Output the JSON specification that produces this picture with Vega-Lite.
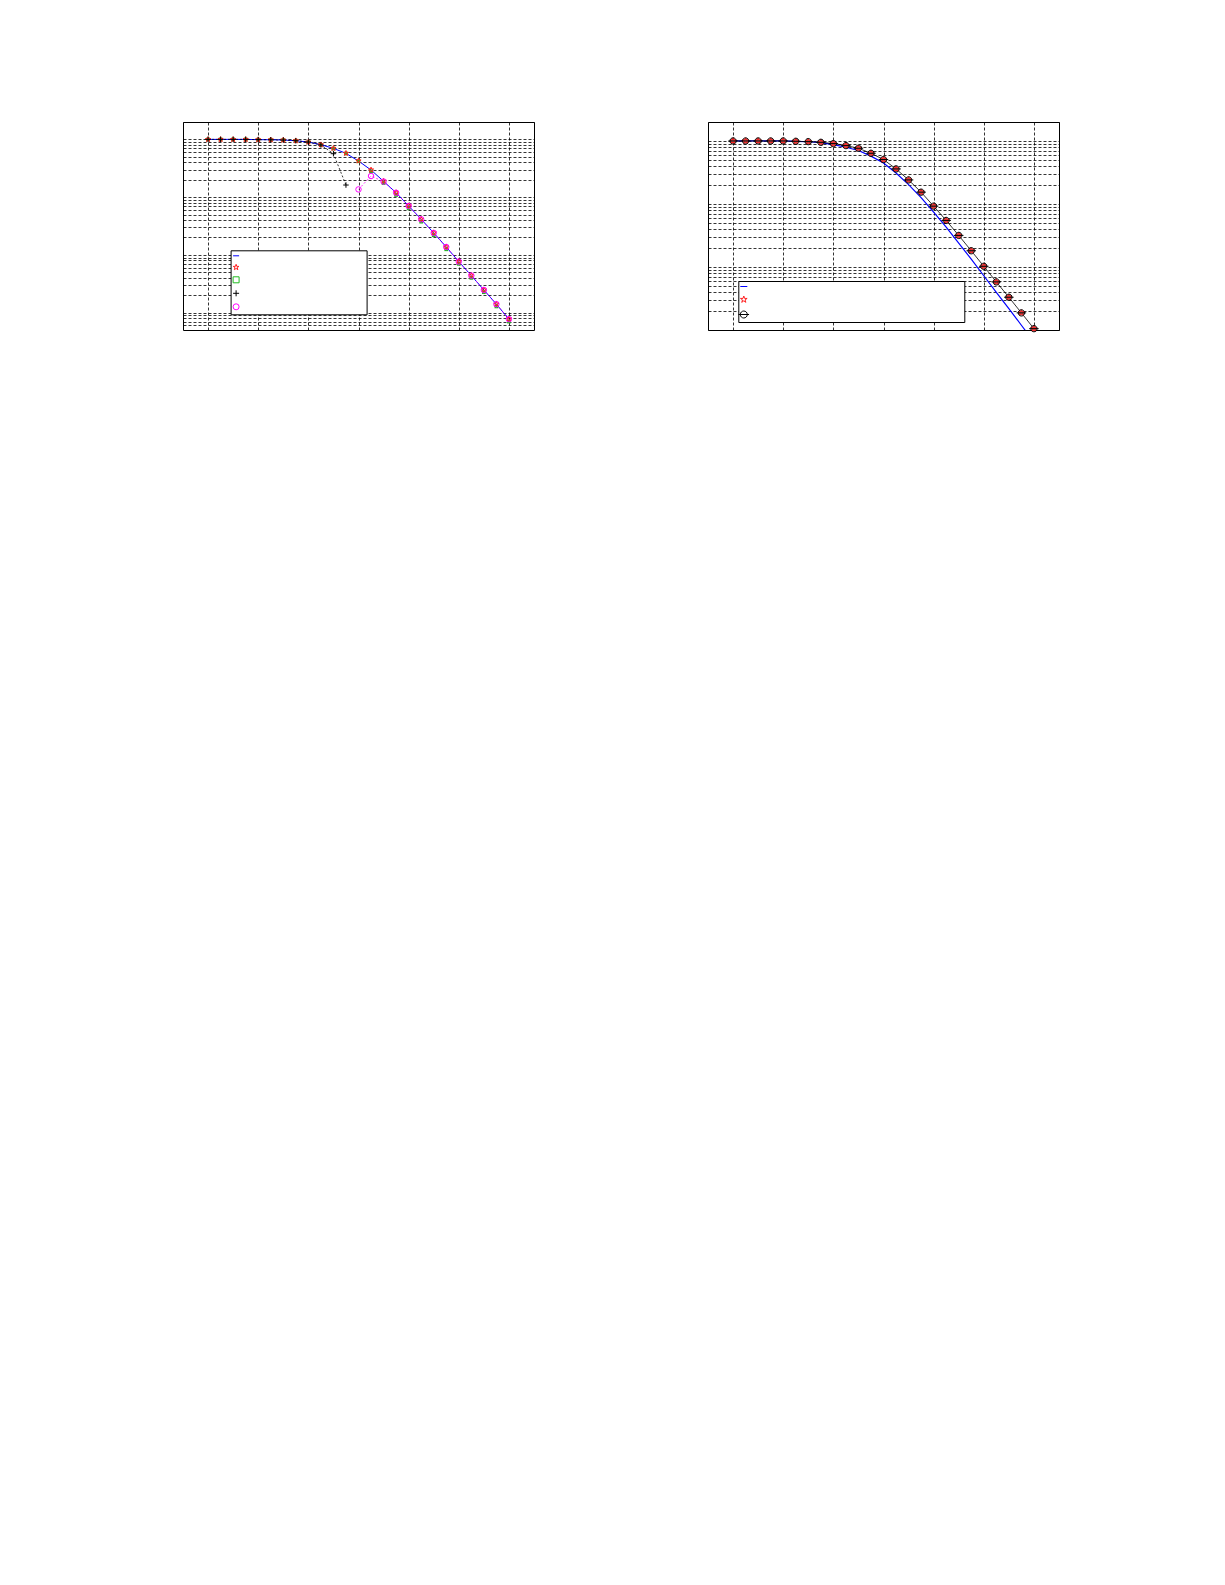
{
  "$schema": "https://vega.github.io/schema/vega-lite/v6.json",
  "background": "white",
  "padding": {"left": 182, "top": 121, "right": 5, "bottom": 5},
  "spacing": 172,
  "config": {
    "view": {"stroke": "#000", "strokeWidth": 1},
    "axis": {
      "labels": false, "ticks": false, "domain": false, "grid": true,
      "gridColor": "#000", "gridOpacity": 1, "gridWidth": 0.8, "gridDash": [3, 2]
    }
  },
  "hconcat": [
    {
      "width": 351,
      "height": 208,
      "data": {"values": [
        {"x":0,"y":1,"s":"theory"},{"x":1,"y":1,"s":"theory"},{"x":2,"y":1,"s":"theory"},{"x":3,"y":1,"s":"theory"},{"x":4,"y":0.99,"s":"theory"},{"x":5,"y":0.985,"s":"theory"},{"x":6,"y":0.975,"s":"theory"},{"x":7,"y":0.948,"s":"theory"},{"x":8,"y":0.899,"s":"theory"},{"x":9,"y":0.809,"s":"theory"},{"x":10,"y":0.699,"s":"theory"},{"x":11,"y":0.573,"s":"theory"},{"x":12,"y":0.422,"s":"theory"},{"x":13,"y":0.295,"s":"theory"},{"x":14,"y":0.188,"s":"theory"},{"x":15,"y":0.119,"s":"theory"},{"x":16,"y":0.0703,"s":"theory"},{"x":17,"y":0.0413,"s":"theory"},{"x":18,"y":0.024,"s":"theory"},{"x":19,"y":0.0137,"s":"theory"},{"x":20,"y":0.00764,"s":"theory"},{"x":21,"y":0.00438,"s":"theory"},{"x":22,"y":0.00247,"s":"theory"},{"x":23,"y":0.0014,"s":"theory"},{"x":24,"y":0.00077,"s":"theory"},
        {"x":0,"y":1,"s":"sim A"},{"x":1,"y":1,"s":"sim A"},{"x":2,"y":1,"s":"sim A"},{"x":3,"y":1,"s":"sim A"},{"x":4,"y":0.99,"s":"sim A"},{"x":5,"y":0.985,"s":"sim A"},{"x":6,"y":0.975,"s":"sim A"},{"x":7,"y":0.95,"s":"sim A"},{"x":8,"y":0.9,"s":"sim A"},{"x":9,"y":0.81,"s":"sim A"},{"x":10,"y":0.7,"s":"sim A"},{"x":11,"y":0.575,"s":"sim A"},{"x":12,"y":0.425,"s":"sim A"},{"x":13,"y":0.297,"s":"sim A"},{"x":14,"y":0.19,"s":"sim A"},{"x":15,"y":0.12,"s":"sim A"},{"x":16,"y":0.071,"s":"sim A"},{"x":17,"y":0.0415,"s":"sim A"},{"x":18,"y":0.0242,"s":"sim A"},{"x":19,"y":0.0138,"s":"sim A"},{"x":20,"y":0.0077,"s":"sim A"},{"x":21,"y":0.0044,"s":"sim A"},{"x":22,"y":0.00248,"s":"sim A"},{"x":23,"y":0.00141,"s":"sim A"},{"x":24,"y":0.00078,"s":"sim A"},
        {"x":0,"y":1,"s":"sim B"},{"x":1,"y":1,"s":"sim B"},{"x":2,"y":1,"s":"sim B"},{"x":3,"y":1,"s":"sim B"},{"x":4,"y":0.99,"s":"sim B"},{"x":5,"y":0.985,"s":"sim B"},{"x":6,"y":0.975,"s":"sim B"},{"x":7,"y":0.948,"s":"sim B"},{"x":8,"y":0.898,"s":"sim B"},{"x":9,"y":0.805,"s":"sim B"},{"x":10,"y":0.695,"s":"sim B"},{"x":11,"y":0.57,"s":"sim B"},{"x":12,"y":0.418,"s":"sim B"},{"x":13,"y":0.28,"s":"sim B"},{"x":14,"y":0.175,"s":"sim B"},{"x":15,"y":0.109,"s":"sim B"},{"x":16,"y":0.064,"s":"sim B"},{"x":17,"y":0.0376,"s":"sim B"},{"x":18,"y":0.0219,"s":"sim B"},{"x":19,"y":0.0125,"s":"sim B"},{"x":20,"y":0.007,"s":"sim B"},{"x":21,"y":0.004,"s":"sim B"},{"x":22,"y":0.00226,"s":"sim B"},{"x":23,"y":0.00128,"s":"sim B"},{"x":24,"y":0.0007,"s":"sim B"},
        {"x":0,"y":1,"s":"sim C"},{"x":1,"y":1,"s":"sim C"},{"x":2,"y":1,"s":"sim C"},{"x":3,"y":1,"s":"sim C"},{"x":4,"y":0.99,"s":"sim C"},{"x":5,"y":0.985,"s":"sim C"},{"x":6,"y":0.975,"s":"sim C"},{"x":7,"y":0.948,"s":"sim C"},{"x":8,"y":0.899,"s":"sim C"},{"x":9,"y":0.8,"s":"sim C"},{"x":10,"y":0.565,"s":"sim C"},{"x":11,"y":0.162,"s":"sim C"},
        {"x":12,"y":0.136,"s":"sim D"},{"x":13,"y":0.232,"s":"sim D"},{"x":14,"y":0.186,"s":"sim D"},{"x":15,"y":0.119,"s":"sim D"},{"x":16,"y":0.0703,"s":"sim D"},{"x":17,"y":0.0413,"s":"sim D"},{"x":18,"y":0.024,"s":"sim D"},{"x":19,"y":0.0137,"s":"sim D"},{"x":20,"y":0.00764,"s":"sim D"},{"x":21,"y":0.00438,"s":"sim D"},{"x":22,"y":0.00247,"s":"sim D"},{"x":23,"y":0.0014,"s":"sim D"},{"x":24,"y":0.00077,"s":"sim D"}
      ]},
      "encoding": {
        "x": {"field": "x", "type": "quantitative", "scale": {"domain": [-2, 26], "nice": false, "zero": false}, "axis": {"title": null, "values": [0, 4, 8, 12, 16, 20, 24]}},
        "y": {"field": "y", "type": "quantitative", "scale": {"type": "log", "domain": [0.0005, 2], "nice": false}, "axis": {"title": null, "values": [0.0006,0.0007,0.0008,0.0009,0.001,0.002,0.003,0.004,0.005,0.006,0.007,0.008,0.009,0.01,0.02,0.03,0.04,0.05,0.06,0.07,0.08,0.09,0.1,0.2,0.3,0.4,0.5,0.6,0.7,0.8,0.9,1,2]}}
      },
      "layer": [
        {
          "transform": [{"filter": "datum.s === 'theory'"}],
          "mark": {"type": "line", "color": "#0000ff", "strokeWidth": 1, "clip": true}
        },
        {
          "transform": [{"filter": "datum.s === 'sim C'"}],
          "mark": {"type": "line", "color": "#000000", "strokeWidth": 0.8, "strokeDash": [2, 2]}
        },
        {
          "transform": [{"filter": "datum.s === 'sim D'"}],
          "mark": {"type": "line", "color": "#ff00ff", "strokeWidth": 0.8, "strokeDash": [2, 2]}
        },
        {
          "transform": [{"filter": "datum.s === 'sim B'"}],
          "mark": {"type": "point", "shape": "square", "filled": true, "color": "#22bb22", "opacity": 1, "size": 14}
        },
        {
          "transform": [{"filter": "datum.s !== 'theory' && datum.s !== 'sim B'"}],
          "mark": {"type": "point", "filled": false, "strokeWidth": 1, "opacity": 1, "size": 30},
          "encoding": {
            "shape": {"field": "s", "type": "nominal", "scale": {"domain": ["theory", "sim A", "sim B", "sim C", "sim D"], "range": ["stroke", "M0,-1L0.225,-0.309L0.951,-0.309L0.363,0.118L0.588,0.809L0,0.382L-0.588,0.809L-0.363,0.118L-0.951,-0.309L-0.225,-0.309Z", "square", "M-1,0H1M0,-1V1", "circle"]},
              "legend": {"title": null, "orient": "none", "legendX": 47.6, "legendY": 128.3, "labelExpr": "''", "labelOffset": 125, "padding": 2, "rowPadding": 2.5, "labelFontSize": 6, "symbolSize": 36, "fillColor": "white", "strokeColor": "black", "symbolStrokeWidth": 1}},
            "stroke": {"field": "s", "type": "nominal", "scale": {"domain": ["theory", "sim A", "sim B", "sim C", "sim D"], "range": ["#0000ff", "#ff2020", "#22bb22", "#000000", "#ff00ff"]},
              "legend": {"title": null, "orient": "none", "legendX": 47.6, "legendY": 128.3, "labelExpr": "''", "labelOffset": 125, "padding": 2, "rowPadding": 2.5, "labelFontSize": 6, "symbolSize": 36, "fillColor": "white", "strokeColor": "black", "symbolStrokeWidth": 1}}
          }
        }
      ]
    },
    {
      "width": 351,
      "height": 208,
      "data": {"values": [
        {"x":0,"y":1,"s":"theory"},{"x":1,"y":1,"s":"theory"},{"x":2,"y":1,"s":"theory"},{"x":3,"y":1,"s":"theory"},{"x":4,"y":1,"s":"theory"},{"x":5,"y":0.988,"s":"theory"},{"x":6,"y":0.972,"s":"theory"},{"x":7,"y":0.94,"s":"theory"},{"x":8,"y":0.877,"s":"theory"},{"x":9,"y":0.796,"s":"theory"},{"x":10,"y":0.706,"s":"theory"},{"x":11,"y":0.575,"s":"theory"},{"x":12,"y":0.447,"s":"theory"},{"x":13,"y":0.31,"s":"theory"},{"x":14,"y":0.203,"s":"theory"},{"x":15,"y":0.126,"s":"theory"},{"x":16,"y":0.0743,"s":"theory"},{"x":17,"y":0.0431,"s":"theory"},{"x":18,"y":0.024,"s":"theory"},{"x":19,"y":0.0133,"s":"theory"},{"x":20,"y":0.00726,"s":"theory"},{"x":21,"y":0.00396,"s":"theory"},{"x":22,"y":0.00219,"s":"theory"},{"x":23,"y":0.00119,"s":"theory"},{"x":24,"y":0.000646,"s":"theory"},
        {"x":0,"y":1,"s":"sim E"},{"x":1,"y":1,"s":"sim E"},{"x":2,"y":1,"s":"sim E"},{"x":3,"y":1,"s":"sim E"},{"x":4,"y":1,"s":"sim E"},{"x":5,"y":0.988,"s":"sim E"},{"x":6,"y":0.976,"s":"sim E"},{"x":7,"y":0.952,"s":"sim E"},{"x":8,"y":0.908,"s":"sim E"},{"x":9,"y":0.844,"s":"sim E"},{"x":10,"y":0.766,"s":"sim E"},{"x":11,"y":0.638,"s":"sim E"},{"x":12,"y":0.507,"s":"sim E"},{"x":13,"y":0.36,"s":"sim E"},{"x":14,"y":0.241,"s":"sim E"},{"x":15,"y":0.154,"s":"sim E"},{"x":16,"y":0.0924,"s":"sim E"},{"x":17,"y":0.0548,"s":"sim E"},{"x":18,"y":0.0317,"s":"sim E"},{"x":19,"y":0.0181,"s":"sim E"},{"x":20,"y":0.01026,"s":"sim E"},{"x":21,"y":0.0058,"s":"sim E"},{"x":22,"y":0.00331,"s":"sim E"},{"x":23,"y":0.00187,"s":"sim E"},{"x":24,"y":0.00105,"s":"sim E"},
        {"x":0,"y":1,"s":"sim F"},{"x":1,"y":1,"s":"sim F"},{"x":2,"y":1,"s":"sim F"},{"x":3,"y":1,"s":"sim F"},{"x":4,"y":1,"s":"sim F"},{"x":5,"y":0.988,"s":"sim F"},{"x":6,"y":0.976,"s":"sim F"},{"x":7,"y":0.952,"s":"sim F"},{"x":8,"y":0.908,"s":"sim F"},{"x":9,"y":0.844,"s":"sim F"},{"x":10,"y":0.766,"s":"sim F"},{"x":11,"y":0.638,"s":"sim F"},{"x":12,"y":0.507,"s":"sim F"},{"x":13,"y":0.36,"s":"sim F"},{"x":14,"y":0.241,"s":"sim F"},{"x":15,"y":0.154,"s":"sim F"},{"x":16,"y":0.0924,"s":"sim F"},{"x":17,"y":0.0548,"s":"sim F"},{"x":18,"y":0.0317,"s":"sim F"},{"x":19,"y":0.0181,"s":"sim F"},{"x":20,"y":0.01026,"s":"sim F"},{"x":21,"y":0.0058,"s":"sim F"},{"x":22,"y":0.00331,"s":"sim F"},{"x":23,"y":0.00187,"s":"sim F"},{"x":24,"y":0.00105,"s":"sim F"}
      ]},
      "encoding": {
        "x": {"field": "x", "type": "quantitative", "scale": {"domain": [-2, 26], "nice": false, "zero": false}, "axis": {"title": null, "values": [0, 4, 8, 12, 16, 20, 24]}},
        "y": {"field": "y", "type": "quantitative", "scale": {"type": "log", "domain": [0.001, 2], "nice": false}, "axis": {"title": null, "values": [0.001,0.002,0.003,0.004,0.005,0.006,0.007,0.008,0.009,0.01,0.02,0.03,0.04,0.05,0.06,0.07,0.08,0.09,0.1,0.2,0.3,0.4,0.5,0.6,0.7,0.8,0.9,1,2]}}
      },
      "layer": [
        {
          "transform": [{"filter": "datum.s === 'theory'"}],
          "mark": {"type": "line", "color": "#0000ff", "strokeWidth": 1.2, "clip": true}
        },
        {
          "transform": [{"filter": "datum.s === 'sim F'"}],
          "mark": {"type": "line", "color": "#000000", "strokeWidth": 0.8}
        },
        {
          "transform": [{"filter": "datum.s === 'sim F'"}],
          "mark": {"type": "point", "shape": "circle", "filled": true, "color": "#b86a6a", "opacity": 1, "size": 30}
        },
        {
          "transform": [{"filter": "datum.s !== 'theory'"}],
          "mark": {"type": "point", "filled": false, "strokeWidth": 1, "opacity": 1, "size": 40},
          "encoding": {
            "shape": {"field": "s", "type": "nominal", "scale": {"domain": ["theory", "sim E", "sim F"], "range": ["stroke", "M0,-1L0.225,-0.309L0.951,-0.309L0.363,0.118L0.588,0.809L0,0.382L-0.588,0.809L-0.363,0.118L-0.951,-0.309L-0.225,-0.309Z", "M-1,0A1,1,0,1,1,1,0A1,1,0,1,1,-1,0ZM-1.5,0H1.5"]},
              "legend": {"title": null, "orient": "none", "legendX": 30.3, "legendY": 159, "labelExpr": "''", "labelOffset": 215, "padding": 1.5, "rowPadding": 4, "labelFontSize": 6, "symbolSize": 49, "fillColor": "white", "strokeColor": "black", "symbolStrokeWidth": 1}},
            "stroke": {"field": "s", "type": "nominal", "scale": {"domain": ["theory", "sim E", "sim F"], "range": ["#0000ff", "#ff2020", "#000000"]},
              "legend": {"title": null, "orient": "none", "legendX": 30.3, "legendY": 159, "labelExpr": "''", "labelOffset": 215, "padding": 1.5, "rowPadding": 4, "labelFontSize": 6, "symbolSize": 49, "fillColor": "white", "strokeColor": "black", "symbolStrokeWidth": 1}}
          }
        }
      ]
    }
  ],
  "resolve": {"scale": {"shape": "independent", "stroke": "independent"}}
}
